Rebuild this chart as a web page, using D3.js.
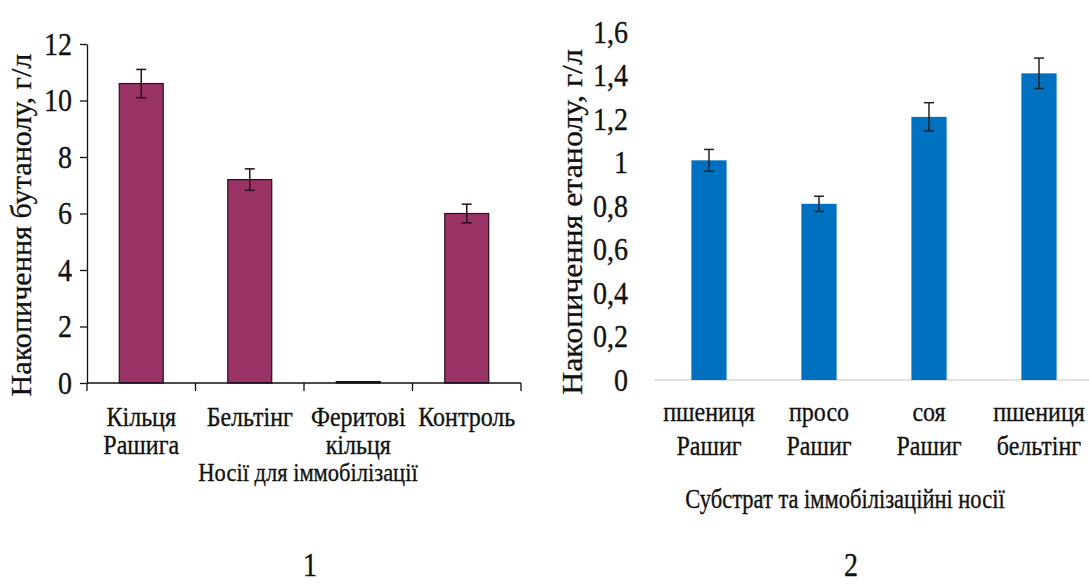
<!DOCTYPE html>
<html>
<head>
<meta charset="utf-8">
<script src="https://cdn.jsdelivr.net/npm/d3@7"></script>
<style>
  html, body { margin: 0; padding: 0; background: #fff; }
  svg { display: block; font-family: "Liberation Serif", "Times New Roman", serif; }
  svg text { stroke: #111; stroke-width: 0.3px; }
</style>
</head>
<body>
<svg id="chart" width="1089" height="586"></svg>
<script>
// Panel 1: butanol accumulation by immobilisation carrier
const carriers = [["Кільця", "Рашига"], ["Бельтінг"], ["Феритові", "кільця"], ["Контроль"]];
const butanol = [10.6, 7.2, 0.05, 6.0];
const butanolErr = [0.5, 0.38, 0, 0.33];
const butanolTicks = [0, 2, 4, 6, 8, 10, 12];

// Panel 2: ethanol accumulation by substrate and carrier
const substrates = [["пшениця", "Рашиг"], ["просо", "Рашиг"], ["соя", "Рашиг"], ["пшениця", "бельтінг"]];
const ethanol = [1.01, 0.81, 1.21, 1.41];
const ethanolErr = [0.05, 0.035, 0.065, 0.07];
const ethanolTicks = [0, 0.2, 0.4, 0.6, 0.8, 1.0, 1.2, 1.4, 1.6];

const svg = d3.select("#chart");
const ink = "#111";
const serif = "Liberation Serif, Times New Roman, serif";

// text drawn slightly taller than wide, like the typeset figure
function label(g, x, y, txt, size, sy, anchor = "middle") {
  return g.append("text")
    .attr("transform", `translate(${x},${y}) scale(1,${sy})`)
    .attr("text-anchor", anchor).attr("font-size", size)
    .attr("font-family", serif).attr("fill", ink).text(txt);
}

function drawBars(g, x, y, keys, values, errs, fill, stroke, errColor) {
  const rows = values.map((v, i) => ({ key: keys[i], v, e: errs[i] }));
  g.selectAll("rect.bar").data(rows).join("rect")
    .attr("class", "bar")
    .attr("x", d => x(d.key))
    .attr("width", x.bandwidth())
    .attr("y", d => y(d.v))
    .attr("height", d => y(0) - y(d.v))
    .attr("fill", fill)
    .attr("stroke", stroke || "none")
    .attr("stroke-width", 1.2);

  const eb = g.selectAll("g.err").data(rows.filter(d => d.e > 0)).join("g")
    .attr("class", "err").attr("stroke", errColor).attr("stroke-width", 1.5);
  const cx = d => x(d.key) + x.bandwidth() / 2;
  eb.append("line").attr("x1", cx).attr("x2", cx)
    .attr("y1", d => y(d.v + d.e)).attr("y2", d => y(d.v - d.e));
  [1, -1].forEach(s => {
    eb.append("line")
      .attr("x1", d => cx(d) - 5).attr("x2", d => cx(d) + 5)
      .attr("y1", d => y(d.v + s * d.e)).attr("y2", d => y(d.v + s * d.e));
  });
}

// ---------- Panel 1 ----------
{
  const keys1 = carriers.map(c => c.join(" "));
  const x = d3.scaleBand().domain(keys1).range([87, 521]).paddingInner(0.595).paddingOuter(0.2975);
  const y = d3.scaleLinear().domain([0, 12]).range([383, 44]);
  const g = svg.append("g");

  drawBars(g, x, y, keys1, butanol, butanolErr, "#993366", "#2a0f1c", "#2b0a1c");

  // y axis
  const ya = g.append("g").attr("transform", "translate(87,0)")
    .call(d3.axisLeft(y).tickValues(butanolTicks).tickSize(7).tickSizeOuter(0).tickPadding(8));
  ya.select(".domain").attr("stroke", ink).attr("stroke-width", 1.3);
  ya.selectAll(".tick line").attr("stroke", ink).attr("stroke-width", 1.3);
  ya.selectAll(".tick text").attr("font-size", 28).attr("font-family", serif)
    .attr("fill", ink).attr("transform", "scale(1,1.15)");

  // x axis with ticks at category boundaries
  g.append("line").attr("x1", 87).attr("x2", 521).attr("y1", y(0)).attr("y2", y(0))
    .attr("stroke", ink).attr("stroke-width", 1.3);
  const bounds = keys1.map(k => x(k) - x.step() * x.paddingInner() / 2).concat([521]);
  g.selectAll("line.xt").data(bounds).join("line").attr("class", "xt")
    .attr("x1", d => d).attr("x2", d => d).attr("y1", y(0)).attr("y2", y(0) + 8)
    .attr("stroke", ink).attr("stroke-width", 1.3);

  carriers.forEach((lines, i) => {
    lines.forEach((t, j) => label(g, x(keys1[i]) + x.bandwidth() / 2, 426 + j * 28, t, 24, 1.12));
  });

  label(g, 308, 481, "Носії для іммобілізації", 22.5, 1.15);

  g.append("text").attr("transform", "translate(31,225) rotate(-90) scale(1.04,1)")
    .attr("text-anchor", "middle").attr("font-size", 29).attr("font-family", serif).attr("fill", ink)
    .text("Накопичення бутанолу, г/л");

  label(g, 310, 576, "1", 28, 1.2);
}

// ---------- Panel 2 ----------
{
  const keys2 = substrates.map(s => s.join(" "));
  const x = d3.scaleBand().domain(keys2).range([654, 1094]).paddingInner(0.68).paddingOuter(0.34);
  const y = d3.scaleLinear().domain([0, 1.6]).range([380, 32]);
  const g = svg.append("g");
  const fmt = d => d === 0 ? "0" : String(+d.toFixed(1)).replace(".", ",");

  g.append("line").attr("x1", 654).attr("x2", 1094).attr("y1", y(0)).attr("y2", y(0))
    .attr("stroke", "#d9d9d9").attr("stroke-width", 1.5);

  drawBars(g, x, y, keys2, ethanol, ethanolErr, "#0070c0", null, "#222");

  const ya = g.append("g").attr("transform", "translate(654,0)")
    .call(d3.axisLeft(y).tickValues(ethanolTicks).tickFormat(fmt).tickSize(0).tickPadding(26));
  ya.select(".domain").remove();
  ya.selectAll(".tick text").attr("font-size", 28).attr("font-family", serif)
    .attr("fill", ink).attr("transform", "scale(1,1.15)");

  substrates.forEach((lines, i) => {
    lines.forEach((t, j) => label(g, x(keys2[i]) + x.bandwidth() / 2, 421 + j * 34, t, 24, 1.12));
  });

  label(g, 845, 508, "Субстрат та іммобілізаційні носії", 22.5, 1.2);

  g.append("text").attr("transform", "translate(582,222) rotate(-90) scale(1.1,1)")
    .attr("text-anchor", "middle").attr("font-size", 29).attr("font-family", serif).attr("fill", ink)
    .text("Накопичення етанолу, г/л");

  label(g, 851, 576, "2", 28, 1.2);
}
</script>
</body>
</html>
